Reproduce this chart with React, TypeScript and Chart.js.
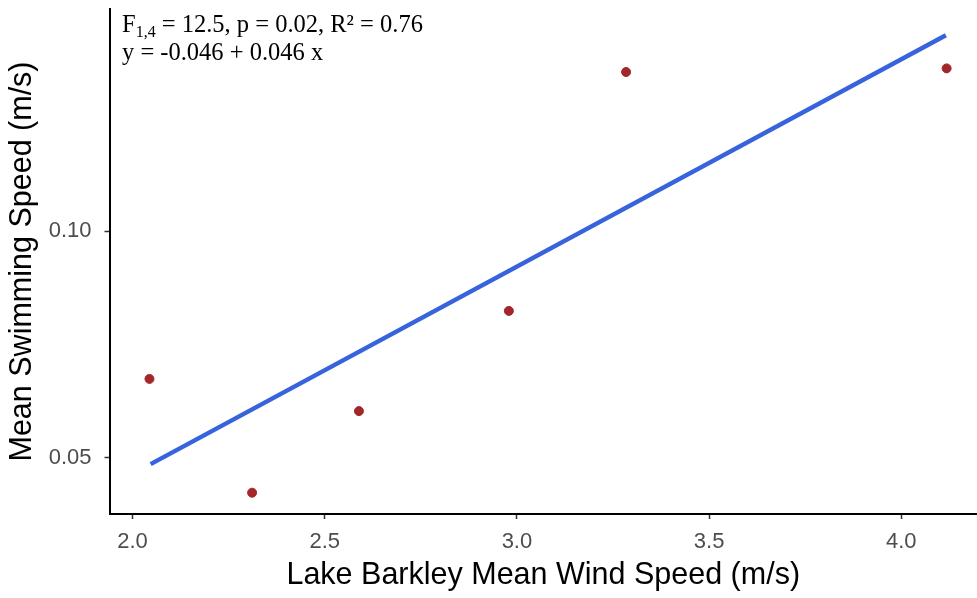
import React, { useEffect, useRef } from "react";
import { Chart, registerables } from "chart.js";

Chart.register(...registerables);

const windSpeed = [2.044, 2.311, 2.589, 2.979, 3.284, 4.118];
const swimSpeed = [0.0674, 0.0423, 0.0603, 0.0824, 0.1351, 0.1359];
const fitX = [2.047, 4.116];
const fitY = [0.0486, 0.1432];
const xTicks = [2.0, 2.5, 3.0, 3.5, 4.0];
const yTicks = [0.05, 0.1];

const annotationPlugin = {
  id: "annot",
  afterDraw(chart: any) {
    const ctx = chart.ctx;
    ctx.save();
    ctx.fillStyle = "#000";
    ctx.textBaseline = "alphabetic";
    ctx.textAlign = "left";
    const big = '24.5px "Liberation Serif", "Times New Roman", serif';
    const small = '16px "Liberation Serif", "Times New Roman", serif';
    let x = 122;
    const y1 = 32;
    ctx.font = big;
    ctx.fillText("F", x, y1);
    x += ctx.measureText("F").width;
    ctx.font = small;
    ctx.fillText("1,4", x, y1 + 5);
    x += ctx.measureText("1,4").width;
    ctx.font = big;
    ctx.fillText(" = 12.5, p = 0.02, R\u00B2 = 0.76", x, y1);
    ctx.fillText("y = -0.046 + 0.046 x", 122, 60);
    ctx.restore();
  },
};

export default function App() {
  const ref = useRef<HTMLCanvasElement>(null);
  useEffect(() => {
    document.body.style.margin = "0";
    const chart = new Chart(ref.current!, {
      type: "scatter",
      data: {
        datasets: [
          {
            type: "line",
            data: fitX.map((x, i) => ({ x, y: fitY[i] })),
            borderColor: "#3763DC",
            borderWidth: 4.5,
            pointRadius: 0,
            fill: false,
            order: 2,
          } as any,
          {
            data: windSpeed.map((x, i) => ({ x, y: swimSpeed[i] })),
            backgroundColor: "#A3262A",
            borderColor: "#A3262A",
            pointRadius: 4.5,
            order: 1,
          },
        ],
      },
      options: {
        animation: false,
        responsive: false,
        maintainAspectRatio: false,
        layout: { autoPadding: false, padding: { top: 9, right: 0, left: 0, bottom: 0 } },
        plugins: { legend: { display: false }, tooltip: { enabled: false } },
        scales: {
          x: {
            type: "linear",
            min: 1.94,
            max: 4.197,
            afterBuildTicks: (axis: any) => {
              axis.ticks = xTicks.map((v) => ({ value: v }));
            },
            afterFit: (axis: any) => {
              axis.height = 84;
              axis.paddingLeft = 0;
              axis.paddingRight = 0;
            },
            border: { display: true, color: "#000", width: 2 },
            grid: {
              display: true,
              drawOnChartArea: false,
              drawTicks: true,
              tickLength: 5,
              color: "#333",
              tickWidth: 1.5,
            },
            ticks: {
              color: "#4D4D4D",
              font: { family: "Liberation Sans, Arial, sans-serif", size: 22 },
              padding: 10,
              callback: (v: any) => Number(v).toFixed(1),
              maxRotation: 0,
            },
            title: {
              display: true,
              text: "Lake Barkley Mean Wind Speed (m/s)",
              color: "#000",
              font: { family: "Liberation Sans, Arial, sans-serif", size: 30.5 },
              padding: { top: 0, bottom: 4 },
            },
          },
          y: {
            type: "linear",
            min: 0.0376,
            max: 0.149,
            afterBuildTicks: (axis: any) => {
              axis.ticks = yTicks.map((v) => ({ value: v }));
            },
            afterFit: (axis: any) => {
              axis.width = 109.5;
              axis.paddingTop = 0;
              axis.paddingBottom = 0;
            },
            border: { display: true, color: "#000", width: 2 },
            grid: {
              display: true,
              drawOnChartArea: false,
              drawTicks: true,
              tickLength: 5,
              color: "#333",
              tickWidth: 1.5,
            },
            ticks: {
              color: "#4D4D4D",
              font: { family: "Liberation Sans, Arial, sans-serif", size: 22 },
              padding: 13,
              callback: (v: any) => Number(v).toFixed(2),
            },
            title: {
              display: true,
              text: "Mean Swimming Speed (m/s)",
              color: "#000",
              font: { family: "Liberation Sans, Arial, sans-serif", size: 30.5 },
              padding: { top: 4, bottom: 0 },
            },
          },
        },
      },
      plugins: [annotationPlugin],
    });
    return () => chart.destroy();
  }, []);
  return (
    <div style={{ position: "fixed", left: 0, top: 0, width: 977, height: 598, background: "#fff" }}>
      <canvas ref={ref} width={977} height={598} style={{ width: 977, height: 598 }} />
    </div>
  );
}
